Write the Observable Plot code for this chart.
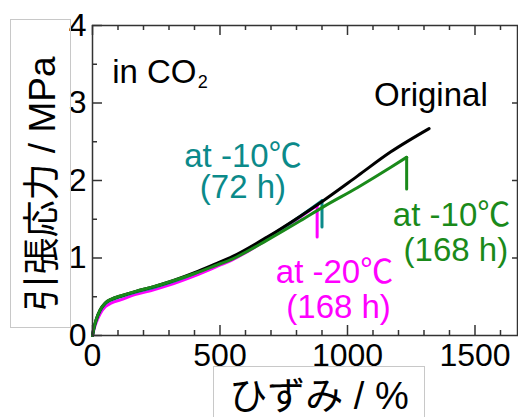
<!DOCTYPE html>
<html>
<head>
<meta charset="utf-8">
<script src="https://cdn.jsdelivr.net/npm/d3@7"></script>
<script src="https://cdn.jsdelivr.net/npm/@observablehq/plot@0.6"></script>
<style>
  html, body { margin: 0; padding: 0; background: #fff; }
  #wrap { position: relative; width: 518px; height: 417px; overflow: hidden; }
  .box { position: absolute; border: 1px solid #c8c8c8; box-sizing: border-box; background: transparent; }
  .box span { position: absolute; left: 50%; top: 50%; white-space: nowrap; color: #000; line-height: 1;
    font-family: "Liberation Sans", Arial, "Noto Sans CJK JP", sans-serif; }
  #ytitle span { transform: translate(-50%, -50%) rotate(-90deg); font-size: 37px; }
  #xtitle span { transform: translate(-50%, -50%); font-size: 38px; }
</style>
</head>
<body>
<div id="wrap">
  <div id="chart"></div>
  <div class="box" id="ytitle" style="left:10px;top:19px;width:61px;height:309px;"><span style="top:calc(50% + 10px); left:calc(50% + 1px);">引張応力 / MPa</span></div>
  <div class="box" id="xtitle" style="left:213px;top:366px;width:212px;height:60px;"><span style="top:29px;">ひずみ / %</span></div>
</div>
<script>
// ---- Data ----
const strainOriginal = [0, 5, 15, 30, 50, 75, 110, 170, 240, 300, 400, 480, 550, 685, 815, 905, 1040, 1170, 1320];
const stressOriginal = [0, 0.09, 0.21, 0.33, 0.42, 0.47, 0.51, 0.57, 0.63, 0.69, 0.81, 0.92, 1.02, 1.27, 1.54, 1.74, 2.06, 2.37, 2.67];

const strainM10_168 = [0, 5, 15, 30, 50, 75, 110, 170, 240, 300, 400, 480, 550, 685, 815, 905, 1040, 1170, 1232, 1232];
const stressM10_168 = [0, 0.09, 0.21, 0.33, 0.42, 0.47, 0.51, 0.57, 0.63, 0.69, 0.80, 0.90, 0.99, 1.23, 1.48, 1.66, 1.91, 2.17, 2.30, 1.89];

const strainM20_168 = [0, 5, 15, 30, 50, 75, 110, 170, 240, 300, 400, 480, 550, 685, 815, 881, 881];
const stressM20_168 = [0, 0.07, 0.17, 0.28, 0.37, 0.42, 0.46, 0.53, 0.59, 0.65, 0.77, 0.88, 0.98, 1.24, 1.53, 1.68, 1.27];

const strainM10_72 = [0, 5, 15, 30, 50, 75, 110, 170, 240, 300, 400, 480, 550, 685, 815, 900, 900];
const stressM10_72 = [0, 0.08, 0.2, 0.32, 0.41, 0.46, 0.50, 0.56, 0.62, 0.68, 0.80, 0.91, 1.01, 1.26, 1.54, 1.74, 1.40];

const xMajorTicks = [0, 500, 1000, 1500];
const xMinorTicks = [100, 200, 300, 400, 600, 700, 800, 900, 1100, 1200, 1300, 1400, 1600];
const yMajorTicks = [0, 1, 2, 3, 4];
const yMinorTicks = [0.5, 1.5, 2.5, 3.5];
const yRightTicks = [1, 2, 3];

const labelText  = ["Original", "at -10℃", "(72 h)", "at -10℃", "(168 h)", "at -20℃", "(168 h)"];
const labelX     = [1327, 590, 590, 1408, 1425, 949, 965];
const labelY     = [3.09, 2.30, 1.90, 1.53, 1.08, 0.80, 0.35];
const labelColor = ["#000000", "#0b8a8a", "#0b8a8a", "#1a8a1a", "#1a8a1a", "#ff00ff", "#ff00ff"];

// ---- Build tables ----
const zip = (xs, ys) => xs.map((x, i) => ({x, y: ys[i]}));
const curvePart = (xs, ys, hasDrop) => zip(xs, ys).slice(0, hasDrop ? -1 : undefined);
const dropPart = (xs, ys) => zip(xs, ys).slice(-2);

const seriesOriginal = curvePart(strainOriginal, stressOriginal, false);
const seriesM10_168 = curvePart(strainM10_168, stressM10_168, true);
const seriesM20_168 = curvePart(strainM20_168, stressM20_168, true);
const seriesM10_72 = curvePart(strainM10_72, stressM10_72, true);
const labels = labelText.map((t, i) => ({t, x: labelX[i], y: labelY[i], c: labelColor[i]}));

const W = 518, H = 417, mL = 92, mR = 1, mT = 25, mB = 82;
const pw = W - mL - mR, ph = H - mT - mB;
const font = "'Liberation Sans', Arial, 'Noto Sans CJK JP', sans-serif";
const lw = 3;

const chart = Plot.plot({
  width: W, height: H,
  marginLeft: mL, marginRight: mR, marginTop: mT, marginBottom: mB,
  style: {fontFamily: font, background: "#fff", color: "#000"},
  x: {domain: [0, 1666.7]},
  y: {domain: [0, 4]},
  marks: [
    Plot.line(seriesM20_168, {x: "x", y: "y", stroke: "#ff00ff", strokeWidth: lw, curve: "monotone-x"}),
    Plot.line(dropPart(strainM20_168, stressM20_168), {x: "x", y: "y", stroke: "#ff00ff", strokeWidth: lw}),
    Plot.line(seriesM10_72, {x: "x", y: "y", stroke: "#0b8a8a", strokeWidth: lw, curve: "monotone-x"}),
    Plot.line(dropPart(strainM10_72, stressM10_72), {x: "x", y: "y", stroke: "#0b8a8a", strokeWidth: lw}),
    Plot.line(seriesOriginal, {x: "x", y: "y", stroke: "#000", strokeWidth: lw, curve: "monotone-x"}),
    Plot.line(seriesM10_168, {x: "x", y: "y", stroke: "#1a8a1a", strokeWidth: lw, curve: "monotone-x"}),
    Plot.line(dropPart(strainM10_168, stressM10_168), {x: "x", y: "y", stroke: "#1a8a1a", strokeWidth: lw}),
    // inward ticks
    Plot.tickX(xMajorTicks, {x: d => d, insetTop: ph - 10, stroke: "#333", strokeWidth: 1.5}),
    Plot.tickX(xMinorTicks, {x: d => d, insetTop: ph - 5, stroke: "#333", strokeWidth: 1.5}),
    Plot.tickX(xMajorTicks, {x: d => d, insetBottom: ph - 10, stroke: "#333", strokeWidth: 1.5}),
    Plot.tickX(xMinorTicks, {x: d => d, insetBottom: ph - 5, stroke: "#333", strokeWidth: 1.5}),
    Plot.tickY(yMajorTicks, {y: d => d, insetRight: pw - 10, stroke: "#333", strokeWidth: 1.5}),
    Plot.tickY(yMinorTicks, {y: d => d, insetRight: pw - 5, stroke: "#333", strokeWidth: 1.5}),
    Plot.tickY(yRightTicks, {y: d => d, insetLeft: pw - 5, stroke: "#333", strokeWidth: 1.5}),
    Plot.frame({stroke: "#333", strokeWidth: 1.5}),
    Plot.axisX({ticks: xMajorTicks, tickSize: 0, tickPadding: 8, fontSize: 32, label: null, tickFormat: d => String(d)}),
    Plot.axisY({ticks: yMajorTicks, tickSize: 0, tickPadding: 6, fontSize: 32, label: null, tickFormat: d => String(d)}),
    Plot.text(labels, {x: "x", y: "y", text: "t", fill: "c", fontSize: 33, textAnchor: "middle", lineHeight: 0.9}),
    Plot.text(["in CO"], {x: () => 77, y: () => 3.40, text: d => d, fontSize: 33, textAnchor: "start"}),
    Plot.text(["2"], {x: () => 413, y: () => 3.266, text: d => d, fontSize: 18, textAnchor: "start"})
  ]
});
document.getElementById("chart").appendChild(chart);
</script>
</body>
</html>
